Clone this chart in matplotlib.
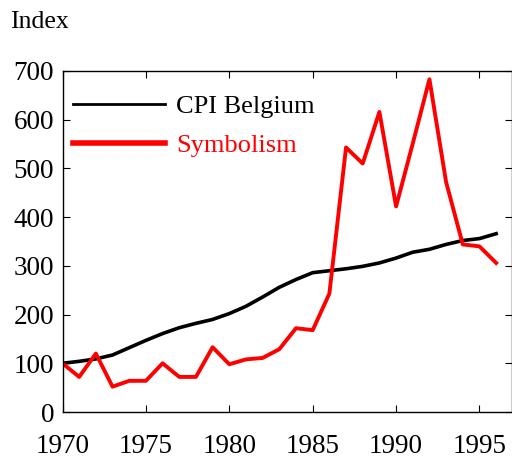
import matplotlib
matplotlib.use("Agg")
import matplotlib.pyplot as plt

years = list(range(1970, 1997))
cpi = [100, 104, 109, 117, 132, 147, 161, 173, 182, 190, 202, 217, 236, 256, 272,
       286, 290, 294, 299, 306, 316, 328, 334, 344, 352, 356, 366]
symbolism = [100, 72, 120, 52, 64, 64, 100, 72, 72, 133, 98, 108, 111, 129, 172,
             168, 243, 543, 510, 616, 422, 551, 683, 472, 344, 340, 306]
xticks = [1970, 1975, 1980, 1985, 1990, 1995]
yticks = [0, 100, 200, 300, 400, 500, 600, 700]

plt.rcParams['font.family'] = ['Liberation Serif', 'DejaVu Serif']
fig = plt.figure(figsize=(5.12, 4.59), dpi=100)
ax = fig.add_axes([62.5/512, 1 - 412/459, (512 - 62.5)/512, (412 - 71)/459])

l1, = ax.plot(years, cpi, color='black', lw=2.6, label='CPI Belgium')
l2, = ax.plot(years, symbolism, color='#ff0000', lw=2.8, label='Symbolism')

ax.set_xlim(1970, 1970 + (511.5 - 62.5) / ((479 - 62.5) / 25))
ax.set_ylim(0, 700)
ax.set_xticks(xticks)
ax.set_yticks(yticks)
ax.tick_params(direction='in', length=5, width=0.8, labelsize=19.5,
               top=True, right=True, colors='black')
ax.tick_params(axis='x', pad=16)
ax.tick_params(axis='y', pad=6)
for s in ax.spines.values():
    s.set_linewidth(1.0)

leg = ax.legend(loc='upper left', bbox_to_anchor=(0.0, 0.962), frameon=False,
                fontsize=19, handlelength=3.5, handletextpad=0.4,
                labelspacing=0.6, borderaxespad=0.4, borderpad=0.0,
                labelcolor='linecolor')
hl = leg.get_lines()
hl[0].set_linewidth(2.0)
hl[1].set_linewidth(4.0)

fig.text(10/512, 1 - 22/459, 'Index', fontsize=18.5, ha='left', va='center')

fig.savefig('out.png', dpi=100)
